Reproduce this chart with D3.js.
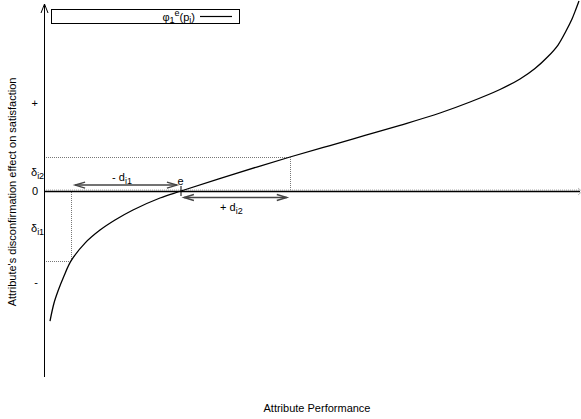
<!DOCTYPE html>
<html>
<head>
<meta charset="utf-8">
<script src="https://cdn.jsdelivr.net/npm/d3@7"></script>
<style>
  html, body { margin: 0; padding: 0; background: #fff; }
  svg { display: block; font-family: "Liberation Sans", Arial, sans-serif; }
</style>
</head>
<body>
<svg id="chart" width="581" height="419"></svg>
<script>
// Disconfirmation curve phi_1^e(p_i): attribute performance vs. effect on satisfaction
const curveX = [1.12, 1.87, 2.61, 3.73, 5.04, 7.65, 10.45, 13.25, 16.6, 21.64, 25.56,
                34.70, 45.90, 53.36, 59.89, 66.42, 73.88, 79.48, 85.07, 88.81, 91.60,
                94.03, 95.90, 97.39, 98.51, 99.25, 99.81];
const curveY = [-69.9, -60.2, -53.8, -45.7, -37.6, -28.0, -21.0, -15.6, -10.2, -3.76, 0,
                8.44, 18.28, 24.46, 29.84, 35.32, 41.94, 47.85, 54.57, 60.22, 65.86,
                72.31, 78.49, 86.02, 92.47, 97.85, 102.15];

// Expectation point e and the two performance levels with their effects
const expectationX = 25.56;
const levelX = [5.04, 45.90];
const levelY = [-37.6, 18.28];

// Y-axis tick labels
const yTickValues = [47.3, 0, -48.9];
const yTickLabels = ["+", "0", "-"];

// Distance arrows (-d_i1 and +d_i2)
const arrowX1 = [5.8, 26.1];
const arrowX2 = [24.8, 45.3];
const arrowY = [3.2, -3.5];

const svg = d3.select("#chart");
const x = d3.scaleLinear().domain([0, 100]).range([44, 580]);
const y = d3.scaleLinear().domain([-100, 100]).range([377, 5]);

const ink = "#000";

// Dotted guide lines from the curve to the axes
const guides = svg.append("g")
  .attr("fill", "none").attr("stroke", "#777").attr("stroke-width", 1)
  .attr("stroke-dasharray", "1,1");
levelX.forEach((lx, i) => {
  guides.append("path")
    .attr("d", `M${x(0)},${Math.round(y(levelY[i])) + 0.5}H${Math.round(x(lx)) + 0.5}V${y(0)}`);
});

// Zero axis (dotted) with the solid horizontal axis
svg.append("line")
  .attr("x1", x(0)).attr("x2", x(100))
  .attr("y1", y(0) - 1).attr("y2", y(0) - 1)
  .attr("stroke", "#aaa").attr("stroke-dasharray", "1,1");
svg.append("line")
  .attr("x1", x(0)).attr("x2", x(100))
  .attr("y1", y(0) + 0.5).attr("y2", y(0) + 0.5)
  .attr("stroke", ink).attr("stroke-width", 1.3);
// arrow head at right end of the x axis
svg.append("path")
  .attr("d", `M${x(100) - 2},${y(0) - 3}L${x(100) + 2},${y(0) + 0.5}L${x(100) - 2},${y(0) + 4}`)
  .attr("fill", "none").attr("stroke", "#bbb");

// Vertical axis with arrow head on top
svg.append("line")
  .attr("x1", x(0) + 0.5).attr("x2", x(0) + 0.5)
  .attr("y1", y(-100)).attr("y2", y(100) - 1)
  .attr("stroke", ink).attr("stroke-width", 1);
svg.append("path")
  .attr("d", `M${x(0) - 3},${y(100) + 8}L${x(0) + 0.5},${y(100) - 1}L${x(0) + 4},${y(100) + 8}`)
  .attr("fill", "none").attr("stroke", ink).attr("stroke-width", 1);

// Y tick labels via d3 axis without tick lines
const yAxis = d3.axisLeft(y)
  .tickValues(yTickValues)
  .tickFormat((d, i) => yTickLabels[i])
  .tickSize(0).tickPadding(6);
const yg = svg.append("g").attr("transform", `translate(${x(0)},0)`).call(yAxis);
yg.select(".domain").remove();
yg.selectAll("text").attr("font-size", 11).attr("fill", ink)
  .attr("font-family", "Liberation Sans, Arial, sans-serif");

// delta labels on the y axis
const deltaLabels = [
  { value: 10.2, sub: "i2" },
  { value: -19.9, sub: "i1" }
];
deltaLabels.forEach(dl => {
  const t = svg.append("text")
    .attr("x", 31).attr("y", y(dl.value) + 4)
    .attr("font-size", 11).attr("fill", ink);
  t.append("tspan").text("δ");
  t.append("tspan").attr("dy", 3).attr("font-size", 9).text(dl.sub);
});

// Curve
const line = d3.line()
  .x((d, i) => x(curveX[i]))
  .y(d => y(d))
  .curve(d3.curveCatmullRom.alpha(0.5));
svg.append("path")
  .datum(curveY)
  .attr("d", line)
  .attr("fill", "none").attr("stroke", ink).attr("stroke-width", 1.3);

// Expectation tick and label
svg.append("line")
  .attr("x1", x(expectationX)).attr("x2", x(expectationX))
  .attr("y1", y(0) - 5).attr("y2", y(0) + 5)
  .attr("stroke", ink).attr("stroke-width", 1);
svg.append("text")
  .attr("x", x(expectationX) - 0.5).attr("y", y(0) - 6)
  .attr("text-anchor", "middle").attr("font-size", 11).attr("fill", ink)
  .text("e");

// Double-headed distance arrows
const arrowColor = "#444";
arrowX1.forEach((ax, i) => {
  const x1 = x(ax), x2 = x(arrowX2[i]), yy = y(arrowY[i]);
  const g = svg.append("g").attr("fill", "none").attr("stroke", arrowColor).attr("stroke-width", 1.4);
  g.append("line").attr("x1", x1).attr("x2", x2).attr("y1", yy).attr("y2", yy);
  g.append("path").attr("d", `M${x1 + 10},${yy - 3}L${x1},${yy}L${x1 + 10},${yy + 3}`);
  g.append("path").attr("d", `M${x2 - 10},${yy - 3}L${x2},${yy}L${x2 - 10},${yy + 3}`);
});

// Arrow labels
const dLabels = [
  { cx: (x(arrowX1[0]) + x(arrowX2[0])) / 2 - 4, y: y(arrowY[0]) - 4, main: "- d", sub: "i1" },
  { cx: (x(arrowX1[1]) + x(arrowX2[1])) / 2 - 4, y: y(arrowY[1]) + 13, main: "+ d", sub: "i2" }
];
dLabels.forEach(l => {
  const t = svg.append("text")
    .attr("x", l.cx).attr("y", l.y)
    .attr("text-anchor", "middle").attr("font-size", 11).attr("fill", ink);
  t.append("tspan").text(l.main);
  t.append("tspan").attr("dy", 3).attr("font-size", 9).text(l.sub);
});

// Legend box
const legend = svg.append("g");
legend.append("rect")
  .attr("x", 51.5).attr("y", 9.5).attr("width", 188).attr("height", 14)
  .attr("fill", "#fff").attr("stroke", ink).attr("stroke-width", 1);
const lt = legend.append("text")
  .attr("x", 195).attr("y", 21).attr("text-anchor", "end")
  .attr("font-size", 11).attr("fill", ink);
lt.append("tspan").text("φ");
lt.append("tspan").attr("dy", 2).attr("font-size", 9).text("1");
lt.append("tspan").attr("dy", -7).attr("font-size", 9).text("e");
lt.append("tspan").attr("dy", 5).text("(p");
lt.append("tspan").attr("dy", 2).attr("font-size", 9).text("i");
lt.append("tspan").attr("dy", -2).text(")");
legend.append("line")
  .attr("x1", 200).attr("x2", 232).attr("y1", 16.5).attr("y2", 16.5)
  .attr("stroke", ink).attr("stroke-width", 1.2);

// Axis titles
svg.append("text")
  .attr("x", 317).attr("y", 412)
  .attr("text-anchor", "middle").attr("font-size", 11).attr("fill", ink)
  .text("Attribute Performance");
svg.append("text")
  .attr("transform", `translate(16,192) rotate(-90)`)
  .attr("text-anchor", "middle").attr("font-size", 11).attr("fill", ink)
  .text("Attribute's disconfirmation effect on satisfaction");
</script>
</body>
</html>
